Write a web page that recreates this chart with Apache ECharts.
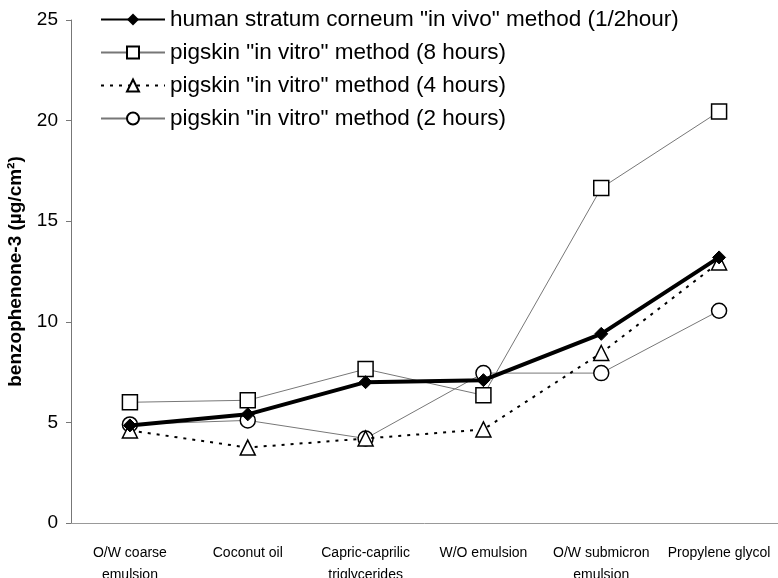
<!DOCTYPE html>
<html>
<head>
<meta charset="utf-8">
<script src="https://cdn.jsdelivr.net/npm/echarts@6/dist/echarts.min.js"></script>
<style>
  html, body { margin: 0; padding: 0; background: #fff; }
  #chart { width: 778px; height: 578px; }
</style>
</head>
<body>
<div id="chart"></div>
<script>
// categories and values
const categories = ['O/W coarse\nemulsion', 'Coconut oil', 'Capric-caprilic\ntriglycerides', 'W/O emulsion', 'O/W submicron\nemulsion', 'Propylene glycol'];
const humanVivo = [4.85, 5.4, 7.0, 7.1, 9.4, 13.2];
const pig8h = [6.0, 6.1, 7.65, 6.35, 16.65, 20.45];
const pig4h = [4.6, 3.75, 4.2, 4.65, 8.45, 12.95];
const pig2h = [4.9, 5.1, 4.2, 7.45, 7.45, 10.55];
const yTicks = [0, 5, 10, 15, 20, 25];

const names = [
  'human stratum corneum "in vivo" method (1/2hour)',
  'pigskin "in vitro" method (8 hours)',
  'pigskin "in vitro" method (4 hours)',
  'pigskin "in vitro" method (2 hours)'
];

const chart = echarts.init(document.getElementById('chart'));

const hollow = { color: '#fff', borderColor: '#000', borderWidth: 1.5 };

const option = {
  animation: false,
  textStyle: { fontFamily: 'Liberation Sans, Arial, sans-serif' },
  grid: { left: 71, right: 0, top: 20, bottom: 55, outerBoundsMode: 'none', containLabel: false },
  legend: {
    orient: 'vertical',
    left: 95,
    top: 3,
    itemWidth: 64,
    itemHeight: 15,
    itemGap: 10,
    data: names,
    textStyle: { fontSize: 22.5, color: '#000' }
  },
  xAxis: {
    type: 'category',
    data: categories,
    axisLine: { lineStyle: { color: '#999', width: 1 } },
    axisTick: { show: false },
    axisLabel: { color: '#000', fontSize: 14, lineHeight: 22, margin: 19, interval: 0 }
  },
  yAxis: {
    type: 'value',
    min: 0,
    max: 25,
    interval: 5,
    name: 'benzophenone-3 (µg/cm²)',
    nameLocation: 'middle',
    nameGap: 46,
    nameTextStyle: { fontSize: 19, fontWeight: 'bold', color: '#000' },
    axisLine: { show: true, lineStyle: { color: '#777', width: 1 } },
    axisTick: { show: true, length: 5, lineStyle: { color: '#777' } },
    axisLabel: {
      color: '#000', fontSize: 19, margin: 13,
      formatter: v => yTicks.includes(v) ? String(v) : ''
    },
    splitLine: { show: false }
  },
  series: [
    {
      name: names[1], type: 'line', data: pig8h, z: 2,
      symbol: 'rect', symbolSize: 15,
      lineStyle: { color: '#777', width: 1 },
      itemStyle: hollow
    },
    {
      name: names[2], type: 'line', data: pig4h, z: 3,
      symbol: 'triangle', symbolSize: 15,
      lineStyle: { color: '#000', width: 2, type: [3, 6] },
      itemStyle: hollow
    },
    {
      name: names[3], type: 'line', data: pig2h, z: 2,
      symbol: 'circle', symbolSize: 15,
      lineStyle: { color: '#777', width: 1 },
      itemStyle: hollow
    },
    {
      name: names[0], type: 'line', data: humanVivo, z: 5,
      symbol: 'diamond', symbolSize: 13,
      lineStyle: { color: '#000', width: 4 },
      itemStyle: { color: '#000', borderColor: '#000' }
    }
  ]
};

chart.setOption(option);
</script>
</body>
</html>
